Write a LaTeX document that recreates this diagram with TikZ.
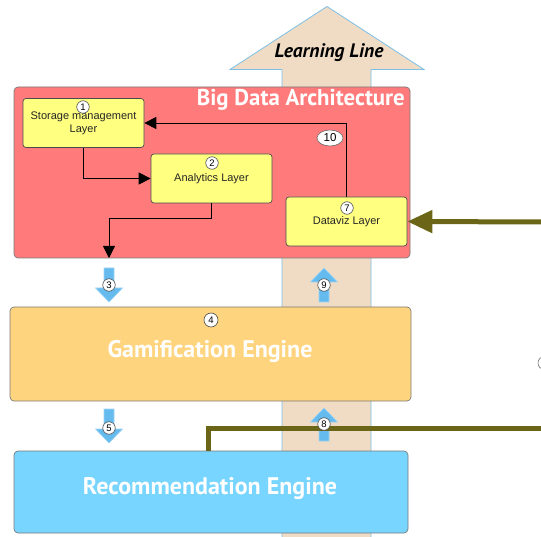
\documentclass[tikz,border=0pt]{standalone}
\usepackage{fontspec}
\setmainfont{Liberation Sans}
\newfontfamily\headfont{PT Sans}
\usetikzlibrary{arrows.meta,calc,shapes.geometric}

\definecolor{archred}{HTML}{FF7B7B}
\definecolor{layeryellow}{HTML}{FFFF80}
\definecolor{gamorange}{HTML}{FFD47E}
\definecolor{recblue}{HTML}{78D5FF}
\definecolor{linetan}{HTML}{F0DCC4}
\definecolor{lineedge}{HTML}{7CC0E8}
\definecolor{stepblue}{HTML}{66BBEE}
\definecolor{stepedge}{HTML}{9ED4F5}
\definecolor{feedolive}{HTML}{6B6517}
\definecolor{boxgray}{HTML}{7A7A7A}

\tikzset{
  layerbox/.style={draw=black!70, line width=0.7pt, fill=layeryellow, rounded corners=3pt,
    minimum width=121pt, minimum height=49pt, inner sep=0pt, align=center,
    font=\fontsize{11}{13}\selectfont, text=black!85},
  bigbox/.style={draw=boxgray, line width=0.7pt, rounded corners=4pt, inner sep=0pt},
  bigtitle/.style={text=white, font=\headfont\bfseries\fontsize{24}{26}\selectfont, inner sep=0pt},
  numdot/.style={circle, draw=black!70, line width=0.6pt, fill=white, minimum size=12.5pt,
    inner sep=0pt, font=\fontsize{9.5}{9.5}\selectfont},
  numoval/.style={ellipse, draw=black!60, line width=0.6pt, fill=white, minimum width=26pt,
    minimum height=16pt, inner sep=0pt, font=\fontsize{11.5}{11.5}\selectfont},
  conn/.style={draw=black, line width=0.8pt, -{Triangle[length=12pt,width=12pt]}},
  feedarrow/.style={draw=feedolive, line width=5pt, -{Triangle[length=25pt,width=22pt]}},
  feedline/.style={draw=feedolive, line width=5pt},
  stepshape/.style={fill=stepblue, draw=stepedge, line width=0.6pt},
}

\begin{document}
\begin{tikzpicture}[x=1pt,y=-1pt]
\useasboundingbox (0,0) rectangle (541,537);
\clip (0,0) rectangle (541,537);

% learning line: tall block arrow behind everything
\draw[fill=linetan, draw=lineedge, line width=0.8pt]
  (282,545) -- (282,69.5) -- (230,69.5) -- (327,6.5) -- (424,69.5) -- (371,69.5) -- (371,545);
\node[font=\headfont\bfseries\itshape\fontsize{19.5}{21}\selectfont, inner sep=0pt] (ll) at (329,53) {Learning Line};

% big data architecture frame
\node[bigbox, fill=archred, minimum width=396pt, minimum height=171pt] (bda) at (212,172.5) {};
\node[bigtitle, anchor=east, font=\headfont\bfseries\fontsize{22.8}{24}\selectfont] (bdat) at (405,100) {Big Data Architecture};

% layers
\node[layerbox] (stor) at (83.5,123) {Storage management\\Layer};
\node[layerbox] (ana) at (211.5,178.5) {Analytics Layer};
\node[layerbox] (dv) at (346.5,221.5) {Dataviz Layer};
\node[numdot] (n1) at (83,107) {1};
\node[numdot] (n2) at (212,163) {2};
\node[numdot] (n7) at (347,208) {7};

% internal flow
\coordinate (c3) at (109,258);
\draw[conn] (stor.south) |- (ana.west);
\draw[conn] (ana.south) -- ++(0,15) -| (c3);
\draw[conn] (dv.north) |- (stor.east);
\node[numoval] (n10) at (330,138) {10};

% engines
\node[bigbox, fill=gamorange, minimum width=401pt, minimum height=94pt] (gam) at (210.5,354) {};
\node[bigtitle] (gamt) at (210,351) {Gamification Engine};
\node[numdot, minimum size=14pt] (n4) at (211,320) {4};

\node[bigbox, fill=recblue, minimum width=394pt, minimum height=82pt] (rec) at (211,492) {};
\node[bigtitle] (rect) at (210,489) {Recommendation Engine};

% small block arrows between the stages
\draw[stepshape] (104,268) -- (114,268) -- (114,288) -- (122.5,288) -- (109,302) -- (95.5,288) -- (104,288) -- cycle;
\draw[stepshape] (104,409) -- (114,409) -- (114,429) -- (122.5,429) -- (109,443) -- (95.5,429) -- (104,429) -- cycle;
\draw[stepshape] (319,302) -- (329,302) -- (329,282) -- (337.5,282) -- (324,268) -- (310.5,282) -- (319,282) -- cycle;
\draw[stepshape] (319,441) -- (329,441) -- (329,422) -- (337.5,422) -- (324,408) -- (310.5,422) -- (319,422) -- cycle;

% feedback lines from the right
\coordinate (fa) at (548,222);
\coordinate (fb) at (548,428);
\draw[feedarrow] (fa) -- (dv.east);
\draw[feedline] (fb) -| ($(rec.north west)+(195,0)$);

\node[numdot] (n3) at (109,285) {3};
\node[numdot] (n5) at (109,428) {5};
\node[numdot] (n9) at (324,285) {9};
\node[numdot] (n8) at (324,424) {8};

% edge of a further marker
\node[numdot, draw=black!55, minimum size=13pt] (n6) at (544.5,363) {};
\end{tikzpicture}
\end{document}
